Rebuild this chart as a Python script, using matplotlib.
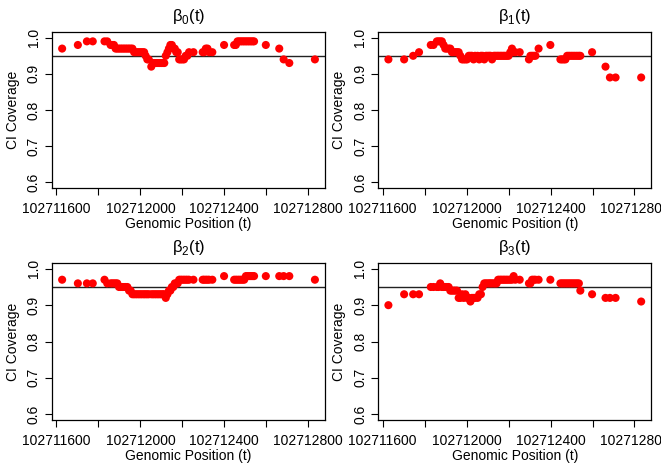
import matplotlib
matplotlib.use("Agg")
import matplotlib.pyplot as plt
import numpy as np

plt.rcParams['font.family'] = ['Liberation Sans', 'DejaVu Sans']
plt.rcParams['mathtext.fontset'] = 'custom'
plt.rcParams['mathtext.rm'] = 'Liberation Sans'

base = 102710000
# site offsets from base
offsets = [1627, 1702, 1745, 1773,
           1829, 1842, 1858, 1866, 1874, 1882, 1890, 1898, 1906, 1914, 1922, 1930, 1938,
           1946, 1954, 1962, 1970, 1978, 1986, 1994, 2002, 2010, 2018, 2025, 2033, 2040,
           2052, 2060, 2068, 2076, 2084, 2092, 2100, 2108, 2114, 2121, 2129, 2136, 2143,
           2150, 2157, 2164, 2171, 2178, 2185, 2192, 2200, 2208, 2216, 2224, 2232, 2253,
           2297, 2304, 2312, 2320, 2328, 2343, 2399,
           2447, 2455, 2463, 2471, 2479, 2487, 2495, 2503, 2511, 2519, 2527, 2535, 2542,
           2598, 2662, 2683, 2710, 2832]

beta0 = [.97, .98, .99, .99,
         .99, .99, .98, .98, .98, .97, .97, .97, .97, .97, .97, .97, .97,
         .97, .97, .97, .96, .96, .96, .96, .96, .96, .96, .95, .94, .94,
         .92, .93, .93, .93, .93, .93, .93, .93, .93, .95, .96, .97, .98,
         .98, .97, .97, .96, .96, .94, .94, .94, .94, .95, .95, .96, .96,
         .96, .96, .97, .97, .96, .96, .98,
         .98, .98, .99, .99, .99, .99, .99, .99, .99, .99, .99, .99, .99,
         .98, .97, .94, .93, .94]

beta1 = [.94, .94, .95, .96,
         .98, .98, .99, .99, .99, .99, .98, .97, .97, .97, .97, .96, .96,
         .96, .96, .96, .95, .94, .94, .94, .94, .95, .95, .95, .94, .95,
         .95, .94, .95, .95, .94, .95, .95, .95, .95, .94, .95, .95, .95,
         .95, .95, .95, .95, .95, .95, .95, .95, .96, .97, .96, .96, .96,
         .94, .95, .95, .95, .95, .97, .98,
         .94, .94, .94, .94, .95, .95, .95, .95, .95, .95, .95, .95, .95,
         .96, .92, .89, .89, .89]

beta2 = [.97, .96, .96, .96,
         .97, .96, .96, .96, .96, .96, .96, .95, .95, .95, .95, .95, .95,
         .94, .94, .93, .93, .93, .93, .93, .93, .93, .93, .93, .93, .93,
         .93, .93, .93, .93, .93, .93, .93, .93, .93, .92, .93, .94, .94,
         .95, .95, .96, .96, .96, .97, .97, .97, .97, .97, .97, .97, .97,
         .97, .97, .97, .97, .97, .97, .98,
         .97, .97, .97, .97, .97, .97, .97, .98, .98, .98, .98, .98, .98,
         .98, .98, .98, .98, .97]

beta3 = [.90, .93, .93, .93,
         .95, .95, .95, .95, .96, .95, .95, .95, .95, .95, .94, .94, .94,
         .94, .94, .92, .92, .93, .92, .93, .92, .92, .91, .92, .92, .92,
         .92, .93, .93, .95, .96, .96, .96, .96, .96, .96, .96, .96, .96,
         .97, .97, .97, .97, .97, .97, .97, .97, .97, .97, .98, .97, .97,
         .96, .96, .97, .97, .97, .97, .97,
         .96, .96, .96, .96, .96, .96, .96, .96, .96, .96, .96, .96, .94,
         .93, .92, .92, .92, .91]

titles = ['β$_0$(t)', 'β$_1$(t)', 'β$_2$(t)', 'β$_3$(t)']
series = [beta0, beta1, beta2, beta3]

tick_pos = [102711600, 102711800, 102712000, 102712200, 102712400, 102712600, 102712800]
tick_lab = ['102711600', '', '102712000', '', '102712400', '', '102712800']
y_ticks = [0.6, 0.7, 0.8, 0.9, 1.0]
nominal = 0.95

x = base + np.array(offsets)
span = x.max() - x.min()
xlim = (x.min() - 0.04 * span, x.max() + 0.04 * span)
ylim = (0.6 - 0.016, 1.0 + 0.016)

fig = plt.figure(figsize=(6.61, 4.66), dpi=100)
# axes boxes in figure fractions
boxes = [[0.0787, 0.5966, 0.413, 0.3348],
         [0.5723, 0.5966, 0.413, 0.3348],
         [0.0787, 0.0987, 0.413, 0.3369],
         [0.5723, 0.0987, 0.413, 0.3369]]

for b, y, t in zip(boxes, series, titles):
    ax = fig.add_axes(b)
    ax.scatter(x, y, s=34, color='red', edgecolors='none', zorder=3)
    ax.axhline(nominal, color='#222222', lw=1.0, zorder=2)
    ax.set_xlim(*xlim)
    ax.set_ylim(*ylim)
    ax.set_xticks(tick_pos)
    ax.set_xticklabels(tick_lab)
    ax.set_yticks(y_ticks)
    ax.set_yticklabels(['%.1f' % v for v in y_ticks], rotation=90, va='center')
    ax.tick_params(axis='x', labelsize=10, length=5, width=0.8, pad=5)
    ax.tick_params(axis='y', labelsize=10, length=5, width=0.8, pad=3)
    for s in ax.spines.values():
        s.set_linewidth(0.9)
    ax.set_title(t, fontsize=12, pad=8)
    ax.set_xlabel('Genomic Position (t)', fontsize=10, labelpad=1)
    ax.set_ylabel('CI Coverage', fontsize=10, labelpad=5)

fig.savefig('out.png', dpi=100)
